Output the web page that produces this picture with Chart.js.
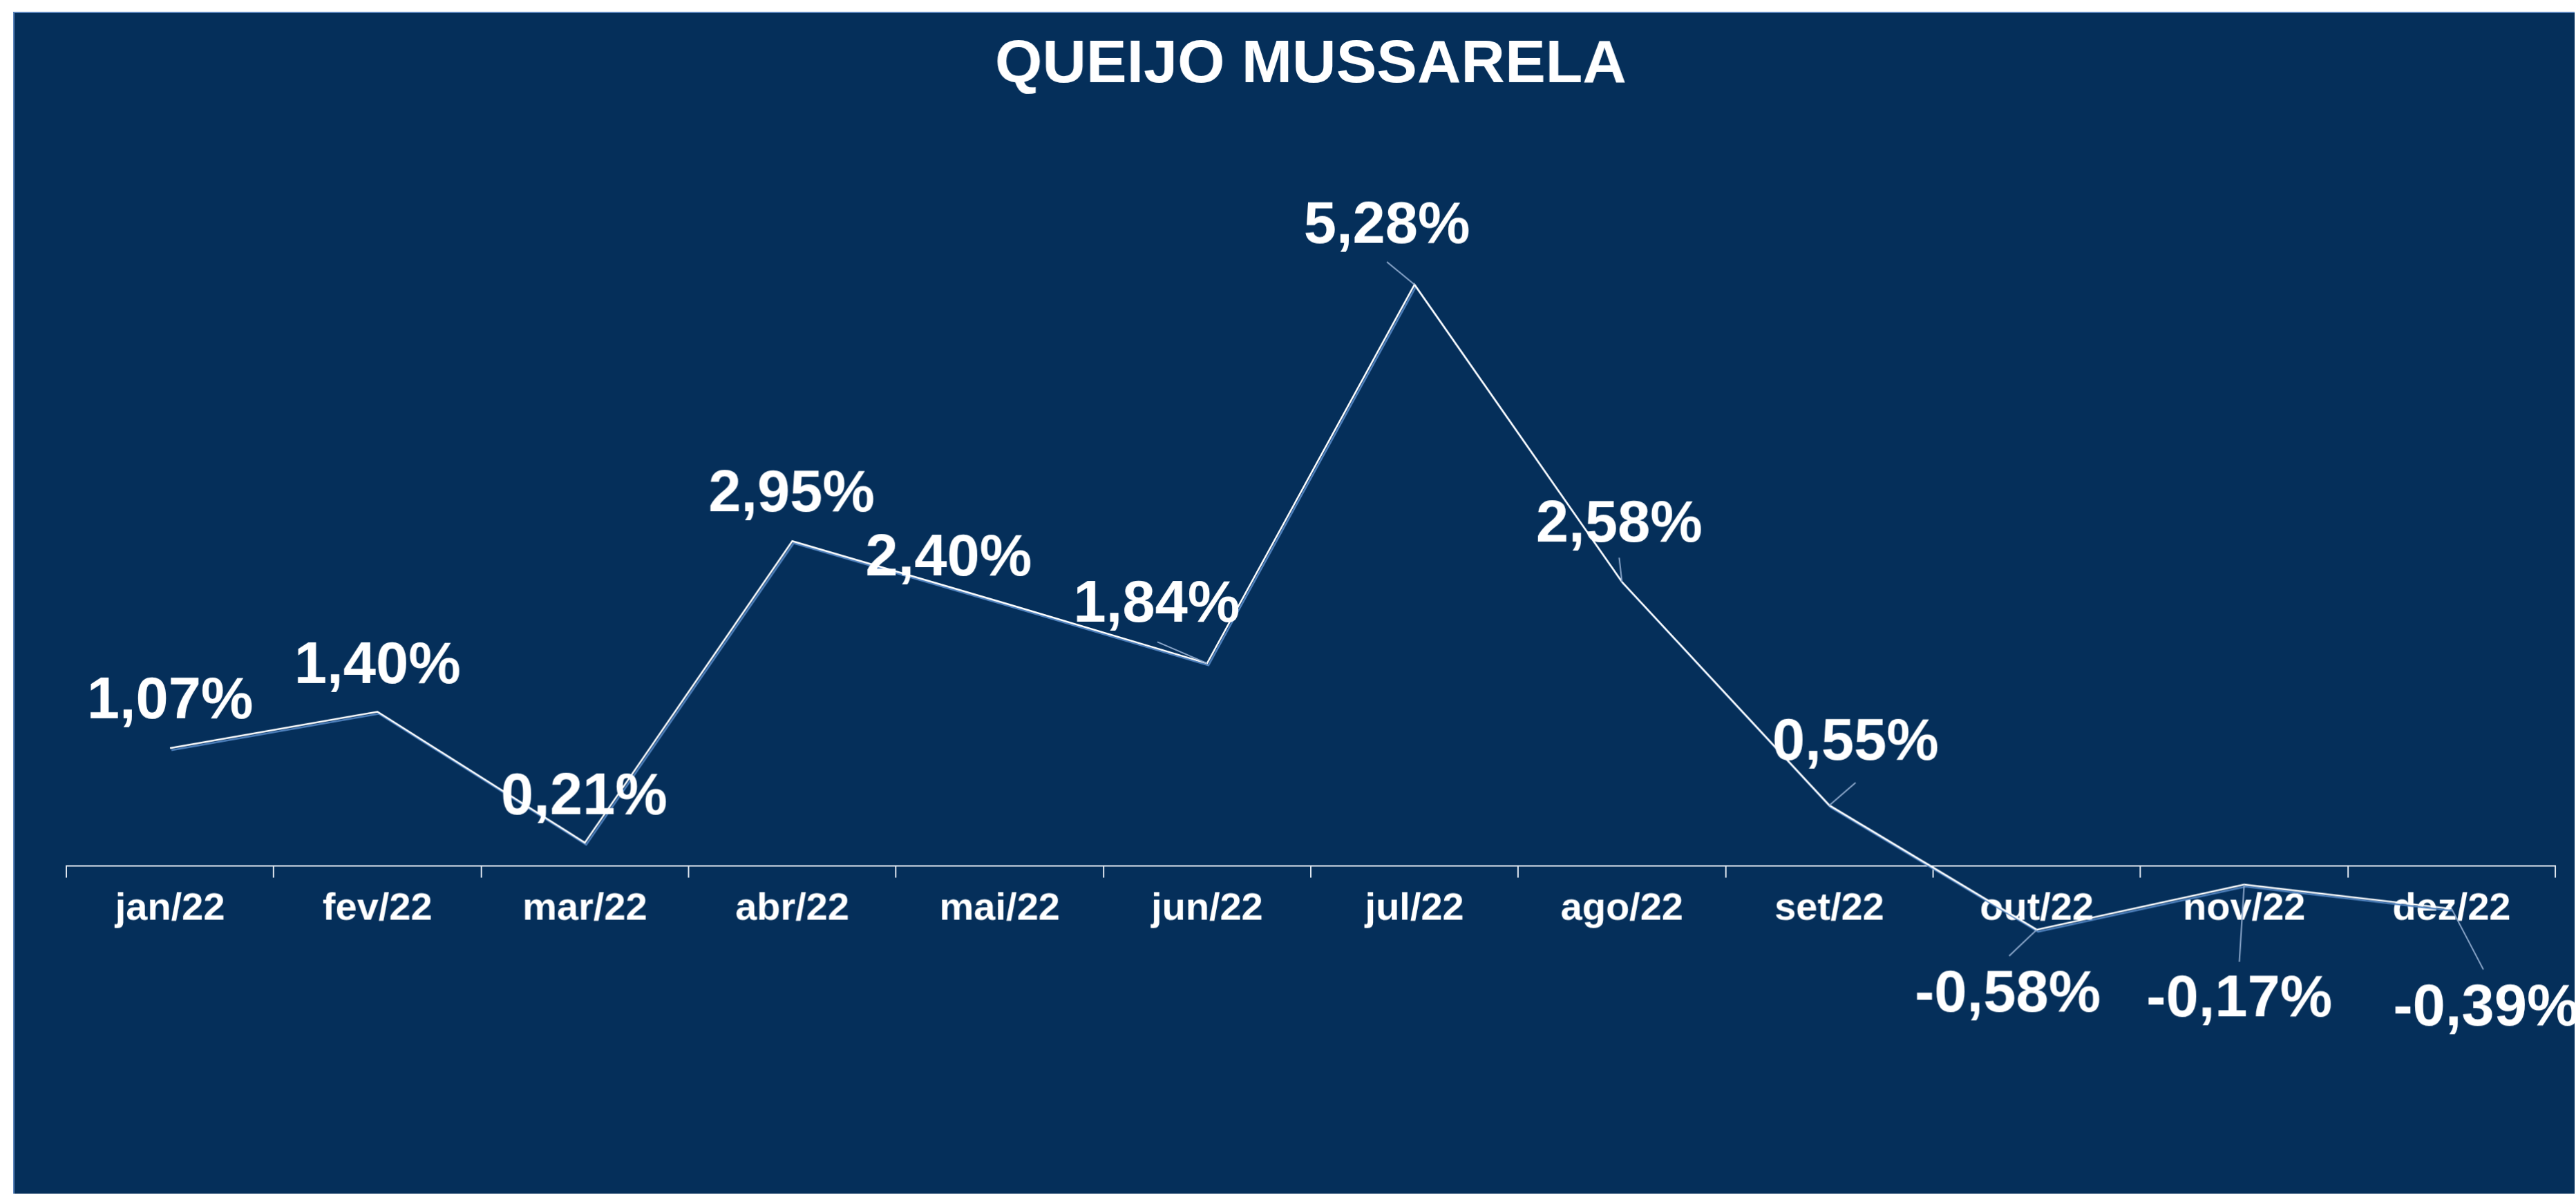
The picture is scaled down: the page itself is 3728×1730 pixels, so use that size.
<!DOCTYPE html>
<html>
<head>
<meta charset="utf-8">
<title>Queijo Mussarela</title>
<script src="https://cdn.jsdelivr.net/npm/chart.js@4/dist/chart.umd.min.js"></script>
<style>
  html, body { margin: 0; padding: 0; background: #ffffff; overflow: hidden; }
  #chart {
    position: absolute;
    left: 19px;
    top: 17px;
    background: #052f5a;
    border-top: 2px solid #5b84bb;
    border-left: 2px solid #5b84bb;
  }
</style>
</head>
<body>
<canvas id="chart" width="3707" height="1711"></canvas>
<script>
const months = ['jan/22', 'fev/22', 'mar/22', 'abr/22', 'mai/22', 'jun/22',
  'jul/22', 'ago/22', 'set/22', 'out/22', 'nov/22', 'dez/22'];
const variation = [1.07, 1.40, 0.21, 2.95, 2.40, 1.84, 5.28, 2.58, 0.55, -0.58, -0.17, -0.39];

// where each value label sits relative to its point, and the leader line start (null = none)
const labelOffsets = [[0, -67], [0, -65], [-1, -65], [-1, -67], [-74, -61], [-73, -84],
  [-40, -84], [-4, -82], [38, -90], [-42, 95], [-7, 168], [50, 145]];
const leaders = [null, null, null, null, null, [-72, -31],
  [-40, -33], [-4, -35], [38, -33], [-40, 38], [-7, 112], [46, 88]];

const FONT = '"Liberation Sans", Arial, sans-serif';

const lineShadow = {
  id: 'lineShadow',
  beforeDatasetDraw(chart) {
    const ctx = chart.ctx;
    ctx.save();
    ctx.shadowColor = '#4f81bd';
    ctx.shadowOffsetX = 2;
    ctx.shadowOffsetY = 3;
    ctx.shadowBlur = 0;
  },
  afterDatasetDraw(chart) {
    chart.ctx.restore();
  }
};

const valueLabels = {
  id: 'valueLabels',
  afterDatasetsDraw(chart) {
    const ctx = chart.ctx;
    const meta = chart.getDatasetMeta(0);
    ctx.save();
    meta.data.forEach((pt, i) => {
      const lead = leaders[i];
      if (lead) {
        ctx.beginPath();
        ctx.strokeStyle = '#8ea9cc';
        ctx.lineWidth = 2;
        ctx.moveTo(pt.x + lead[0], pt.y + lead[1]);
        ctx.lineTo(pt.x, pt.y);
        ctx.stroke();
      }
    });
    ctx.fillStyle = '#ffffff';
    ctx.font = 'bold 85px ' + FONT;
    ctx.textAlign = 'center';
    ctx.textBaseline = 'middle';
    meta.data.forEach((pt, i) => {
      const txt = variation[i].toFixed(2).replace('.', ',') + '%';
      ctx.fillText(txt, pt.x + labelOffsets[i][0], pt.y + labelOffsets[i][1]);
    });
    ctx.restore();
  }
};

new Chart(document.getElementById('chart'), {
  type: 'line',
  data: {
    labels: months,
    datasets: [{
      data: variation,
      borderColor: '#ffffff',
      borderWidth: 2.5,
      tension: 0,
      pointRadius: 0,
      fill: false
    }]
  },
  options: {
    responsive: false,
    animation: false,
    devicePixelRatio: 1,
    layout: { padding: { left: 75, right: 28, top: 0, bottom: 156 } },
    plugins: {
      legend: { display: false },
      tooltip: { enabled: false },
      title: {
        display: true,
        text: 'QUEIJO MUSSARELA',
        color: '#ffffff',
        fullSize: false,
        font: { family: FONT, size: 88, weight: 'bold' },
        padding: { top: 23, bottom: 150 }
      }
    },
    scales: {
      x: {
        type: 'category',
        position: { y: 0 },
        offset: true,
        afterFit(scale) { scale.height = 0; },
        grid: {
          offset: true,
          drawOnChartArea: false,
          drawTicks: true,
          tickLength: 16,
          color: '#dfe6ef',
          lineWidth: 2
        },
        border: { display: true, color: '#dfe6ef', width: 2 },
        ticks: {
          color: '#ffffff',
          padding: 13,
          maxRotation: 0,
          autoSkip: false,
          font: { family: FONT, size: 56, weight: 'bold' }
        }
      },
      y: {
        display: false,
        min: -2,
        max: 6
      }
    }
  },
  plugins: [lineShadow, valueLabels]
});
</script>
</body>
</html>
